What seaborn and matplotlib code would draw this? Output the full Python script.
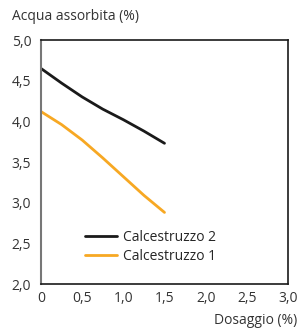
import pandas as pd
import matplotlib.pyplot as plt
import seaborn as sns

# values
dosaggio = [0, 0.25, 0.5, 0.75, 1.0, 1.25, 1.5]
calc2 = [4.65, 4.47, 4.30, 4.15, 4.02, 3.88, 3.73]
calc1 = [4.12, 3.96, 3.77, 3.55, 3.32, 3.09, 2.88]
x_ticks = [0, 0.5, 1.0, 1.5, 2.0, 2.5, 3.0]
x_labels = ["0", "0,5", "1,0", "1,5", "2,0", "2,5", "3,0"]
y_ticks = [2.0, 2.5, 3.0, 3.5, 4.0, 4.5, 5.0]
y_labels = ["2,0", "2,5", "3,0", "3,5", "4,0", "4,5", "5,0"]

df = pd.DataFrame({
    "Dosaggio": dosaggio * 2,
    "Acqua": calc2 + calc1,
    "Serie": ["Calcestruzzo 2"] * len(dosaggio) + ["Calcestruzzo 1"] * len(dosaggio)})

sns.set_style("white")
plt.rcParams["font.family"] = ["Open Sans", "DejaVu Sans"]

fig = plt.figure(figsize=(2.99, 3.29), dpi=100)
ax = fig.add_axes([41 / 299, 45 / 329, 247 / 299, 244 / 329])

sns.lineplot(data=df, x="Dosaggio", y="Acqua", hue="Serie",
             palette={"Calcestruzzo 2": "#1a1a1a", "Calcestruzzo 1": "#f7a823"},
             linewidth=2, ax=ax)

ax.set_xlim(0, 3.0)
ax.set_ylim(2.0, 5.0)
ax.set_xticks(x_ticks)
ax.set_xticklabels(x_labels)
ax.set_yticks(y_ticks)
ax.set_yticklabels(y_labels)
ax.tick_params(axis="x", direction="in", length=6, width=1, colors="#333333",
               labelsize=10, pad=5)
ax.tick_params(axis="y", direction="inout", length=10, width=1, colors="#333333",
               labelsize=10, pad=2)
for lbl in ax.get_xticklabels() + ax.get_yticklabels():
    lbl.set_color("#333333")

for side in ["top", "right", "bottom"]:
    ax.spines[side].set_color("#1a1a1a")
    ax.spines[side].set_linewidth(1.2)
ax.spines["left"].set_color("#777777")
ax.spines["left"].set_linewidth(1.5)

ax.set_xlabel("")
ax.set_ylabel("")
fig.text(12 / 299, 1 - 17 / 329, "Acqua assorbita (%)", fontsize=10,
         color="#333333", va="center", ha="left")
fig.text(297 / 299, 1 - 320 / 329, "Dosaggio (%)", fontsize=10,
         color="#333333", va="center", ha="right")

ax.legend(title=None, frameon=False, loc="lower left",
          bbox_to_anchor=(0.155, 0.06), fontsize=10, handlelength=2.3,
          handletextpad=0.45, labelspacing=0.25, borderaxespad=0)

fig.savefig("out.png", dpi=100)
